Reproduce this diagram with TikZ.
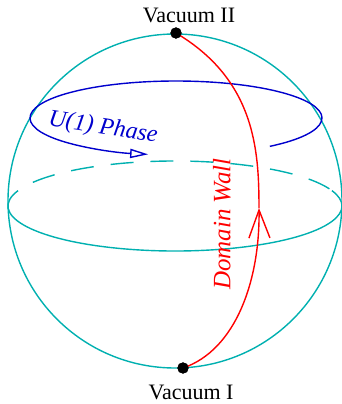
\documentclass[tikz,border=0pt]{standalone}
\usepackage{fontspec}
\setmainfont{Liberation Serif}
\usetikzlibrary{arrows.meta}
\definecolor{sph}{RGB}{0,176,176}
\definecolor{phase}{RGB}{0,0,205}
\definecolor{wall}{RGB}{255,0,0}
\tikzset{
  sphline/.style={draw=sph, line width=0.7pt},
  phaseline/.style={draw=phase, line width=0.7pt},
  wallline/.style={draw=wall, line width=0.7pt},
  dot/.style={circle, fill=black, inner sep=0pt, minimum size=5.6pt},
  vaclabel/.style={font=\fontsize{11}{13}\selectfont, inner sep=0pt, anchor=base},
}
\begin{document}
\begin{tikzpicture}[x=0.5pt,y=0.5pt]
\useasboundingbox (0,0) rectangle (342,404);
% sphere outline
\draw[sphline] (175,203) circle[radius=167];
% equator
\begin{scope}[shift={(175,198)}]
\draw[sphline] (160:167 and 45) arc[start angle=160,end angle=380,x radius=167,y radius=45];
\draw[sphline, dash pattern=on 11.5pt off 8.5pt, dash phase=11.5pt] (160:167 and 45) arc[start angle=160,end angle=20,x radius=167,y radius=45];
\end{scope}
% U(1) phase loop
\begin{scope}[shift={(176,286)}]
\draw[phaseline, -{Triangle[open, length=9pt, width=4.6pt]}] (-50:146 and 37) arc[start angle=-50,end angle=259,x radius=146,y radius=37];
\end{scope}
% vacua
\node[dot] (v2) at (176,371) {};
\node[dot] (v1) at (183,36) {};
\coordinate (m) at (259,196);
% domain wall
\draw[wallline, -{Straight Barb[length=14pt, width=10.5pt]}] (v1.center) .. controls (236,54) and (260,124) .. (m);
\draw[wallline] (m) .. controls (259,254) and (255,324) .. (v2.center);
\node[dot] at (v2) {};
\node[dot] at (v1) {};
% labels
\node[vaclabel] (l2) at (189,382) {Vacuum II};
\node[vaclabel] (l1) at (191,4) {Vacuum I};
\node[text=phase, font=\fontsize{12}{14}\selectfont\itshape, rotate=-9, inner sep=0pt] (lp) at (103,276) {U(1) Phase};
\node[text=wall, font=\fontsize{12.5}{15}\selectfont\itshape, rotate=90, inner sep=0pt] (lw) at (222,180) {Domain Wall};
\end{tikzpicture}
\end{document}
